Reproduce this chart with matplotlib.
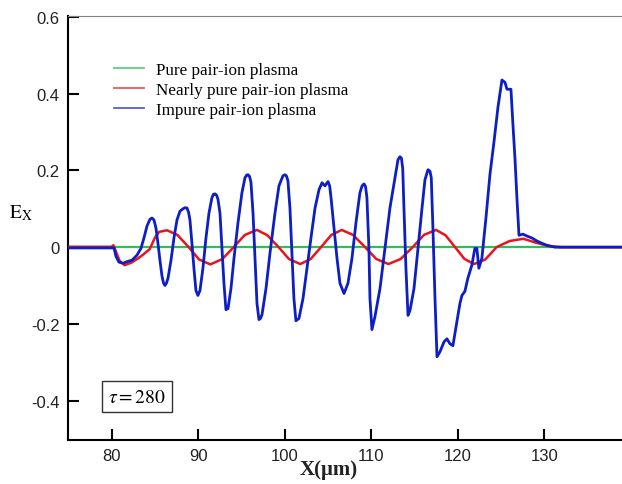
import matplotlib
matplotlib.use("Agg")
import matplotlib.pyplot as plt
from matplotlib.lines import Line2D

plt.rcParams['mathtext.fontset'] = 'stix'

# ---- data, (X, Ex) pairs ----
blue_points = [
    (75.0, -0.002), (80.0, -0.002), (80.27, -0.002), (80.5, -0.024), (80.84, -0.039),
    (81.31, -0.042), (81.88, -0.037), (82.35, -0.034), (82.92, -0.021), (83.39, -0.003),
    (83.73, 0.024), (84.08, 0.055), (84.43, 0.073), (84.66, 0.076), (84.89, 0.071),
    (85.12, 0.05), (85.35, 0.01), (85.58, -0.034), (85.82, -0.076), (86.0, -0.094),
    (86.16, -0.1), (86.33, -0.094), (86.51, -0.081), (86.86, -0.034), (87.2, 0.024),
    (87.55, 0.071), (87.9, 0.094), (88.24, 0.1), (88.48, 0.103), (88.71, 0.102),
    (88.9, 0.09), (89.05, 0.071), (89.28, 0.01), (89.51, -0.055), (89.74, -0.113),
    (89.97, -0.126), (90.21, -0.113), (90.55, -0.055), (90.9, 0.024), (91.25, 0.089),
    (91.59, 0.129), (91.77, 0.138), (91.94, 0.139), (92.12, 0.136), (92.29, 0.125),
    (92.52, 0.089), (92.75, -0.003), (92.98, -0.094), (93.21, -0.163), (93.45, -0.16),
    (93.79, -0.108), (94.14, -0.029), (94.6, 0.063), (95.06, 0.142), (95.41, 0.181),
    (95.6, 0.188), (95.76, 0.189), (95.93, 0.185), (96.1, 0.17), (96.34, 0.089),
    (96.57, -0.029), (96.8, -0.147), (97.03, -0.189), (97.2, -0.186), (97.38, -0.176),
    (97.84, -0.108), (98.3, -0.016), (98.88, 0.089), (99.34, 0.16), (99.8, 0.186),
    (100.03, 0.189), (100.2, 0.186), (100.38, 0.173), (100.61, 0.102), (100.84, -0.016),
    (101.07, -0.134), (101.3, -0.192), (101.65, -0.186), (102.12, -0.134), (102.58, -0.055),
    (103.04, 0.024), (103.51, 0.102), (103.97, 0.15), (104.32, 0.168), (104.66, 0.16),
    (105.01, 0.171), (105.2, 0.16), (105.36, 0.129), (105.7, 0.05), (106.05, -0.029),
    (106.39, -0.094), (106.86, -0.121), (107.32, -0.094), (107.78, -0.029), (108.24, 0.063),
    (108.7, 0.142), (108.95, 0.16), (109.17, 0.165), (109.35, 0.158), (109.51, 0.129),
    (109.74, -0.003), (109.86, -0.134), (110.09, -0.215), (110.44, -0.181), (111.02, -0.108),
    (111.59, -0.003), (112.17, 0.102), (112.75, 0.181), (113.1, 0.228), (113.33, 0.236),
    (113.5, 0.232), (113.65, 0.205), (113.79, 0.102), (114.02, -0.055), (114.26, -0.178),
    (114.49, -0.165), (114.95, -0.108), (115.41, -0.003), (115.88, 0.102), (116.22, 0.176),
    (116.57, 0.202), (116.8, 0.198), (116.95, 0.181), (117.14, 0.05), (117.38, -0.134),
    (117.61, -0.286), (117.95, -0.273), (118.42, -0.247), (118.76, -0.239), (119.11, -0.252),
    (119.45, -0.257), (119.68, -0.226), (119.92, -0.194), (120.26, -0.147), (120.49, -0.126),
    (120.84, -0.115), (121.18, -0.081), (121.64, -0.047), (121.99, -0.003), (122.22, -0.003),
    (122.45, -0.055), (122.8, -0.029), (123.27, 0.076), (123.73, 0.189), (124.19, 0.273),
    (124.66, 0.365), (125.12, 0.436), (125.47, 0.43), (125.7, 0.412), (126.16, 0.412),
    (126.39, 0.32), (126.62, 0.234), (126.85, 0.129), (127.09, 0.031), (127.55, 0.034),
    (128.01, 0.029), (128.59, 0.024), (129.17, 0.016), (129.75, 0.01), (130.32, 0.005),
    (131.25, 0.0), (139.0, 0.0),
]
x_blue = [p[0] for p in blue_points]
y_blue = [p[1] for p in blue_points]

x_red = [75.0, 80.0, 80.2, 80.5, 80.9, 81.5, 82.3, 83.0, 83.6, 84.4, 85.0, 85.5, 86.4, 87.6,
         88.9, 90.1, 91.4, 92.8, 94.1, 95.4, 96.8, 98.0, 99.3, 100.5, 101.8, 103.0, 104.2,
         105.4, 106.6, 107.9, 109.3, 110.6, 112.0, 113.4, 114.8, 116.1, 117.5, 118.6, 119.7,
         120.8, 121.9, 123.2, 124.5, 126.0, 127.6, 129.0, 130.5, 132.0, 139.0]
y_red = [0.001, 0.001, 0.005, -0.012, -0.035, -0.047, -0.04, -0.03, -0.02, -0.005, 0.025, 0.04,
         0.044, 0.032, 0.0, -0.032, -0.045, -0.031, 0.0, 0.032, 0.045, 0.031, 0.0, -0.031,
         -0.044, -0.031, 0.0, 0.032, 0.045, 0.032, 0.0, -0.031, -0.044, -0.031, 0.0, 0.032,
         0.045, 0.031, 0.0, -0.031, -0.044, -0.032, 0.0, 0.016, 0.022, 0.012, 0.003, 0.0, 0.0]

x_green = [80.0, 139.0]
y_green = [0.0, 0.0]

labels = ["Pure pair-ion plasma", "Nearly pure pair-ion plasma", "Impure pair-ion plasma"]
xticks = [80, 90, 100, 110, 120, 130]
yticks = [-0.4, -0.2, 0, 0.2, 0.4, 0.6]
ytick_labels = ["-0.4", "-0.2", "0", "0.2", "0.4", "0.6"]

# ---- figure ----
fig = plt.figure(figsize=(6.22, 4.85), dpi=100)
ax = fig.add_axes([68/622, 1-441/485, 1-68/622, (441-17)/485])

c_green = "#2fbf5a"
c_red = "#e8141c"
c_blue = "#0c1ec4"

ax.plot(x_green, y_green, color=c_green, lw=1.6, zorder=2)
ax.plot(x_red, y_red, color=c_red, lw=1.8, zorder=3)
ax.plot(x_blue, y_blue, color=c_blue, lw=2.0, zorder=4, solid_joinstyle="round")

ax.set_xlim(74.95, 139.0)
ax.set_ylim(-0.503, 0.603)
ax.set_xticks(xticks)
ax.set_yticks(yticks)
ax.set_yticklabels(ytick_labels)

for s in ["left", "bottom"]:
    ax.spines[s].set_linewidth(1.5)
    ax.spines[s].set_color("black")
ax.spines["right"].set_visible(False)
ax.spines["top"].set_linewidth(0.8)
ax.spines["top"].set_color("#808080")

ax.tick_params(axis="both", direction="in", length=8, width=1.5, top=False, right=False,
               labelsize=12, pad=6, colors="black")
for lbl in ax.get_xticklabels() + ax.get_yticklabels():
    lbl.set_fontfamily("Liberation Sans")
    lbl.set_color("#222222")

# legend with lighter, thinner handles
handles = [Line2D([], [], color="#5fd07f", lw=1.3),
           Line2D([], [], color="#f05a5a", lw=1.3),
           Line2D([], [], color="#5060e0", lw=1.3)]
leg = ax.legend(handles, labels, loc="upper left", bbox_to_anchor=(0.07, 0.907),
                frameon=False, prop={"family": "Liberation Serif", "size": 12.3},
                handlelength=1.75, handletextpad=0.75, labelspacing=0.22, borderaxespad=0)

# tau box
ax.text(0.072, 0.103, r"$\tau = 280$", transform=ax.transAxes, fontsize=14,
        ha="left", va="center",
        bbox=dict(boxstyle="square,pad=0.3", fc="white", ec="#333333", lw=1.0))

# axis labels
fig.text(21/622, 1-213/485, r"$\mathrm{E_X}$", fontsize=14, ha="center", va="center")
fig.text(329/622, 1-470/485, "X(μm)", fontsize=15, fontweight="bold",
         family="Liberation Serif", ha="center", va="center", color="#222222")

fig.savefig("out.png", dpi=100)
